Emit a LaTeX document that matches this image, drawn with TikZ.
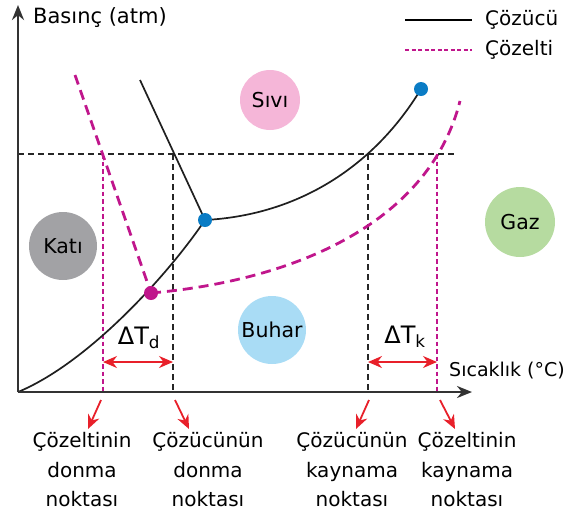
\documentclass[tikz,border=0pt]{standalone}
\usepackage{fontspec}
\setmainfont{DejaVu Sans}
\usetikzlibrary{arrows.meta}
\definecolor{mag}{HTML}{C0168C}
\definecolor{dotblue}{HTML}{0A7CC5}
\definecolor{redarr}{HTML}{E8202A}
\definecolor{pinkc}{HTML}{F5B6D8}
\definecolor{grayc}{HTML}{A2A2A5}
\definecolor{greenc}{HTML}{B6DBA0}
\definecolor{bluec}{HTML}{A9DCF5}
\definecolor{axisc}{HTML}{333333}
\tikzset{
  axis/.style={line width=2.6pt, draw=axisc, -{Stealth[length=15pt,width=12pt]}},
  solvent/.style={line width=1.7pt, draw=black!88},
  solution/.style={line width=2.8pt, draw=mag, dash pattern=on 10pt off 6pt},
  guideblack/.style={line width=1.6pt, draw=black!85, dash pattern=on 6pt off 4pt},
  guidemag/.style={line width=1.6pt, draw=mag, dash pattern=on 4.5pt off 3pt},
  phase/.style={circle, minimum size=#1, inner sep=0pt, font=\fontsize{20.5}{22}\selectfont},
  dot/.style={circle, minimum size=14pt, inner sep=0pt, fill=#1},
  redarrow/.style={line width=1.8pt, draw=redarr, -{Stealth[length=14pt,width=12pt]}},
  dblarrow/.style={line width=1.8pt, draw=redarr, {Stealth[length=14pt,width=12pt]}-{Stealth[length=14pt,width=12pt]}},
  lbl/.style={font=\fontsize{20}{29.5}\selectfont, align=center, inner sep=0pt},
  txt/.style={font=\fontsize{#1}{#1}\selectfont, inner sep=0pt},
  txt/.default=20
}
\begin{document}
\begin{tikzpicture}[x=1pt,y=-1pt]
\path[use as bounding box] (0,0) rectangle (572,512);
% axes
\coordinate (O) at (18,392);
\coordinate (Ytip) at (18,5);
\coordinate (Xtip) at (472,392);
% guides
\coordinate (Hl) at (18,154);
\coordinate (Hr) at (455,154);
\draw[guideblack] (Hl) -- (Hr);
\coordinate (g1t) at (103,154); \coordinate (g1b) at (103,392);
\coordinate (g2t) at (173,154); \coordinate (g2b) at (173,392);
\coordinate (g3t) at (368,154); \coordinate (g3b) at (368,392);
\coordinate (g4t) at (437,154); \coordinate (g4b) at (437,392);
\draw[guidemag] (g1t) -- (g1b);
\draw[guideblack] (g2t) -- (g2b);
\draw[guideblack] (g3t) -- (g3b);
\draw[guidemag] (g4t) -- (g4b);
% phase circles
\node[phase=60pt, fill=pinkc] (sivi) at (270,100) {Sıvı};
\node[phase=68pt, fill=grayc] (kati) at (63,246) {Katı};
\node[phase=70pt, fill=greenc] (gaz) at (520,222) {Gaz};
\node[phase=68pt, fill=bluec] (buhar) at (272,330) {Buhar};
% solvent curves
\coordinate (tp) at (205,220);
\coordinate (cp) at (421,89);
\coordinate (mtop) at (140,80);
\draw[solvent] (O) .. controls (90,362) and (170,272) .. (tp);
\draw[solvent] (mtop) -- (tp);
\draw[solvent] (tp) .. controls (300,215) and (375,165) .. (cp);
% solution curves
\coordinate (stp) at (151,293);
\coordinate (sftop) at (75,75);
\coordinate (svend) at (460,101);
\draw[solution] (sftop) -- (stp);
\draw[solution] (stp) .. controls (300,280) and (430,220) .. (svend);
% dots
\node[dot=dotblue] (tpdot) at (tp) {};
\node[dot=dotblue] (cpdot) at (cp) {};
\node[dot=mag] (stpdot) at (stp) {};
% axes drawn on top
\draw[axis] (O) -- (Ytip);
\draw[axis] (O) -- (Xtip);
\node[txt=21, anchor=west] (ylab) at (33,18) {Basınç (atm)};
\node[txt=19, anchor=west] (xlab) at (449,371) {Sıcaklık (°C)};
% legend
\coordinate (l1a) at (405,20); \coordinate (l1b) at (472,20);
\coordinate (l2a) at (405,50); \coordinate (l2b) at (472,50);
\draw[line width=1.5pt, black] (l1a) -- (l1b);
\draw[line width=1.5pt, mag, dash pattern=on 4pt off 2.5pt] (l2a) -- (l2b);
\node[txt=20, anchor=west] (leg1) at (485,20) {Çözücü};
\node[txt=20, anchor=west] (leg2) at (485,50) {Çözelti};
% delta T
\coordinate (d1) at (103,362); \coordinate (d2) at (173,362);
\coordinate (k1) at (368,362); \coordinate (k2) at (437,362);
\draw[dblarrow] (d1) -- (d2);
\draw[dblarrow] (k1) -- (k2);
\node[txt=24] (dtd) at (139,338) {ΔT\textsubscript{d}};
\node[txt=24] (dtk) at (405,337) {ΔT\textsubscript{k}};
% bottom arrows and labels
\node[lbl] (b1) at (82,470) {Çözeltinin\\donma\\noktası};
\node[lbl] (b2) at (208,470) {Çözücünün\\donma\\noktası};
\node[lbl] (b3) at (352,470) {Çözücünün\\kaynama\\noktası};
\node[lbl] (b4) at (467,470) {Çözeltinin\\kaynama\\noktası};
\coordinate (a1s) at (101,400); \coordinate (a1e) at (88,429);
\coordinate (a2s) at (175,400); \coordinate (a2e) at (189,429);
\coordinate (a3s) at (369,400); \coordinate (a3e) at (356,429);
\coordinate (a4s) at (440,400); \coordinate (a4e) at (455,429);
\draw[redarrow] (a1s) -- (a1e);
\draw[redarrow] (a2s) -- (a2e);
\draw[redarrow] (a3s) -- (a3e);
\draw[redarrow] (a4s) -- (a4e);
\end{tikzpicture}
\end{document}
